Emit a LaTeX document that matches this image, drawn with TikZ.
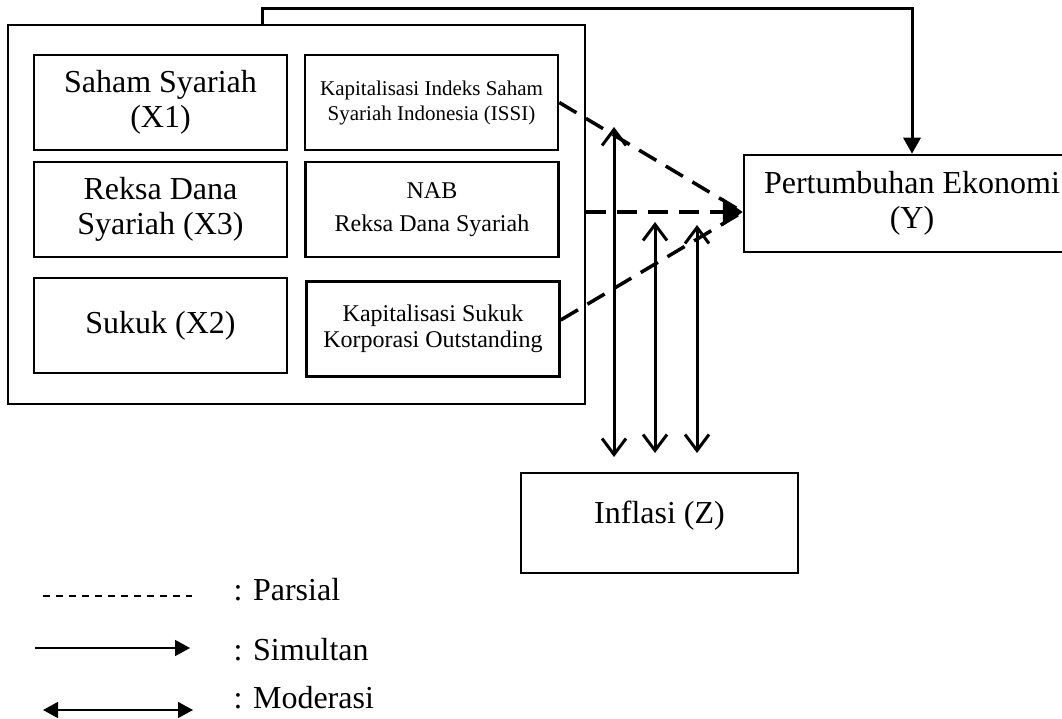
\documentclass[tikz,border=0pt]{standalone}
\usepackage{fontspec}
\setmainfont{Liberation Serif}
\usepackage{tikz}
\usetikzlibrary{positioning, arrows.meta, calc}

\begin{document}
\begin{tikzpicture}[
    x=1pt, y=-1pt,
    every node/.style={font=\fontsize{32}{35}\selectfont},
    box/.style={draw, line width=2.5pt, align=center, inner sep=0pt},
    varbox/.style={box, minimum width=253pt, minimum height=95pt},
    partial/.style={line width=3.5pt, dash pattern=on 20pt off 11pt},
    simul/.style={line width=3pt, -{Triangle[length=16pt, width=17pt]}},
    moder/.style={line width=3pt, {Straight Barb[length=16pt, width=24pt]}-{Straight Barb[length=16pt, width=24pt]}}
]
    \useasboundingbox (0,0) rectangle (1062,719);
    \clip (0,0) rectangle (1062,719);

    % Define nodes
    \node[box, minimum width=577pt, minimum height=379pt] (frame) at (296.5,214.5) {};
    \node[varbox] (saham) at (160.5,102.5) {Saham Syariah\\(X1)};
    \node[varbox, below=9.5pt of saham] (reksa) {Reksa Dana\\Syariah (X3)};
    \node[varbox, below=18.5pt of reksa] (sukuk) {Sukuk (X2)};
    \node[varbox, right=15.5pt of saham, font=\fontsize{21}{25}\selectfont] (issi)
        {Kapitalisasi Indeks Saham\\Syariah Indonesia (ISSI)};
    \node[varbox, right=16pt of reksa, font=\fontsize{24}{33}\selectfont] (nab)
        {NAB\\Reksa Dana Syariah};
    \node[varbox, right=17pt of sukuk, yshift=-3.5pt, font=\fontsize{24}{26}\selectfont] (kapsukuk)
        {Kapitalisasi Sukuk\\Korporasi Outstanding};
    \node[box, minimum width=336pt, minimum height=97pt] (ekonomi) at (912,203.5) {Pertumbuhan Ekonomi\\(Y)};
    \node[box, minimum width=277pt, minimum height=100pt, text depth=22pt] (inflasi) at (659.5,523) {Inflasi (Z)};

    % Legend
    \node[anchor=base west] (lparsial) at (230,600) {: Parsial};
    \node[anchor=base west] (lsimul) at (230,660) {: Simultan};
    \node[anchor=base west] (lmoder) at (230,708) {: Moderasi};

    % Coordinates
    \coordinate (meet) at ([yshift=-8.5pt]ekonomi.west);
    \coordinate (m1 top) at (614,127);
    \coordinate (m1 bot) at (614,457);
    \coordinate (m2 top) at (655,222);
    \coordinate (m2 bot) at (655,453);
    \coordinate (m3 top) at (697,225);
    \coordinate (m3 bot) at (697,453);

    % Transitions
    \draw[simul] ([xshift=-34.5pt]frame.north) -- ++(0,-15) -| (ekonomi.north);
    \draw[partial] (issi.east) -- (meet);
    \draw[partial] ([yshift=9pt]kapsukuk.east) -- (meet);
    \draw[partial, -{Triangle[length=20pt, width=27pt]}] (frame.east |- meet) -- (meet);
    \draw[moder] (m1 bot) -- (m1 top);
    \draw[moder] (m2 bot) -- (m2 top);
    \draw[moder] (m3 bot) -- (m3 top);

    % Legend lines
    \draw[line width=1.5pt, dash pattern=on 7pt off 6pt] (43,596) coordinate (lp a) -- (192,596) coordinate (lp b);
    \draw[line width=1.5pt, -{Triangle[length=15pt, width=16pt]}] (35,648) coordinate (ls a) -- (190,648) coordinate (ls b);
    \draw[line width=1.5pt, {Triangle[length=15pt, width=16pt]}-{Triangle[length=15pt, width=16pt]}]
        (43,710) coordinate (lm a) -- (193,710) coordinate (lm b);
\end{tikzpicture}
\end{document}
